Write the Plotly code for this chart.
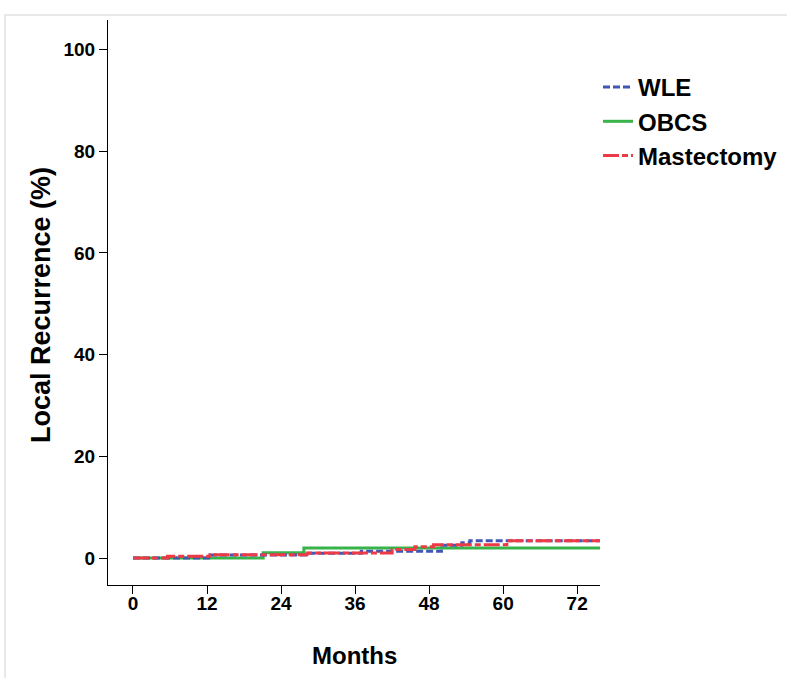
import plotly.graph_objects as go

# Data (months, cumulative local recurrence %)
wle_months = [0, 12.5, 28.2, 37.0, 50.0, 53.3, 54.6, 76]
wle_values = [0, 0.6, 0.95, 1.35, 2.5, 3.0, 3.4, 3.4]

obcs_months = [0, 21.1, 27.7, 76]
obcs_values = [0, 1.05, 2.0, 2.0]

mast_months = [0, 5.6, 12.5, 28.2, 42.0, 45.7, 48.7, 60.6, 76]
mast_values = [0, 0.35, 0.65, 1.0, 1.7, 2.2, 2.6, 3.4, 3.4]

x_ticks = [0, 12, 24, 36, 48, 60, 72]
y_ticks = [0, 20, 40, 60, 80, 100]

W, H = 787, 678
L, R, T, B = 108, 187, 20, 93
pw, ph = W - L - R, H - T - B

def px_x(p):
    return (p - L) / pw

def px_y(p):
    return (H - B - p) / ph

FONT = "Liberation Sans, Arial, sans-serif"

fig = go.Figure()
fig.add_trace(go.Scatter(x=obcs_months, y=obcs_values, name="OBCS", mode="lines",
                         line=dict(shape="hv", color="#37b34a", width=3), legendrank=2))
fig.add_trace(go.Scatter(x=wle_months, y=wle_values, name="WLE", mode="lines",
                         line=dict(shape="hv", color="#4057b5", width=3, dash="7px,3px"), legendrank=1))
fig.add_trace(go.Scatter(x=mast_months, y=mast_values, name="Mastectomy", mode="lines",
                         line=dict(shape="hv", color="#ee3a45", width=3, dash="16px,3px,6px,3px"), legendrank=3))

fig.update_layout(
    width=W, height=H,
    margin=dict(l=L, r=R, t=T, b=B, pad=0, autoexpand=False),
    paper_bgcolor="white", plot_bgcolor="white",
    font=dict(family=FONT, color="black"),
    showlegend=True,
    legend=dict(x=px_x(598), y=px_y(65), xanchor="left", yanchor="top",
                font=dict(size=24, family=FONT, color="black", weight="bold"),
                bgcolor="rgba(0,0,0,0)", itemwidth=30, tracegroupgap=0),
    xaxis=dict(range=[-4.05, 75.7], tickvals=x_ticks, ticktext=[str(v) for v in x_ticks],
               showgrid=False, zeroline=False, showline=True, linecolor="black", linewidth=1,
               ticks="outside", ticklen=8, tickcolor="black", tickwidth=1,
               ticklabelstandoff=-7,
               tickfont=dict(size=19, family=FONT, color="black", weight="bold")),
    yaxis=dict(range=[-5.3, 105.8], tickvals=y_ticks, ticktext=[str(v) for v in y_ticks],
               showgrid=False, zeroline=False, showline=True, linecolor="black", linewidth=1,
               ticks="outside", ticklen=8, tickcolor="black", tickwidth=1,
               tickfont=dict(size=19, family=FONT, color="black", weight="bold")),
    shapes=[dict(type="rect", xref="paper", yref="paper",
                 x0=px_x(5), x1=px_x(800), y0=px_y(700), y1=px_y(15),
                 line=dict(color="#e8e8e8", width=2), layer="below")],
    annotations=[
        dict(text="Local Recurrence (%)", xref="paper", yref="paper",
             x=px_x(41), y=px_y(305), textangle=-90, showarrow=False,
             xanchor="center", yanchor="middle",
             font=dict(size=27, family=FONT, color="black", weight="bold")),
        dict(text="Months", xref="paper", yref="paper",
             x=px_x(354), y=px_y(655), showarrow=False,
             xanchor="center", yanchor="middle",
             font=dict(size=24, family=FONT, color="black", weight="bold")),
    ],
)

fig.write_html("out.html")
